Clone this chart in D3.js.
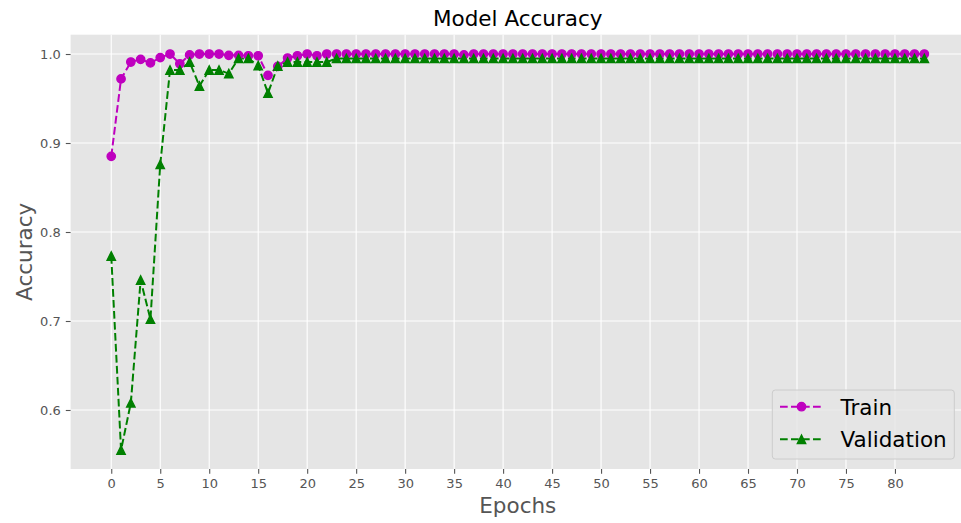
<!DOCTYPE html>
<html>
<head>
<meta charset="utf-8">
<script src="https://cdn.jsdelivr.net/npm/d3@7"></script>
<style>
  html, body { margin: 0; padding: 0; background: #fff; }
  svg { display: block; font-family: "DejaVu Sans", sans-serif; }
</style>
</head>
<body>
<svg id="chart" width="961" height="523"></svg>
<script>
// ---- data ----
const epochs = d3.range(0, 84);
const trainAcc = [
  0.885, 0.972, 0.991, 0.994, 0.990, 0.996, 1.000, 0.989, 0.999, 1.000,
  1.000, 1.000, 0.9985, 0.9985, 0.998, 0.998, 0.976, 0.986, 0.9955, 0.998,
  1.000, 0.998, 1.000, 1.000, 1.000, 1.000, 1.000, 1.000, 1.000, 1.000,
  1.000, 1.000, 1.000, 1.000, 1.000, 1.000, 0.999, 1.000, 1.000, 1.000,
  1.000, 1.000, 1.000, 1.000, 1.000, 1.000, 1.000, 1.000, 1.000, 1.000,
  1.000, 1.000, 1.000, 1.000, 1.000, 1.000, 1.000, 1.000, 1.000, 1.000,
  1.000, 1.000, 1.000, 1.000, 1.000, 1.000, 1.000, 1.000, 1.000, 1.000,
  1.000, 1.000, 1.000, 1.000, 1.000, 1.000, 1.000, 1.000, 1.000, 1.000,
  1.000, 1.000, 1.000, 1.000
];
const valAcc = [
  0.773, 0.555, 0.608, 0.746, 0.702, 0.876, 0.982, 0.982, 0.991, 0.964,
  0.982, 0.982, 0.978, 0.995, 0.995, 0.987, 0.956, 0.9865, 0.991, 0.991,
  0.991, 0.991, 0.991, 0.995, 0.995, 0.995, 0.995, 0.995, 0.995, 0.995,
  0.995, 0.995, 0.995, 0.995, 0.995, 0.995, 0.995, 0.995, 0.995, 0.995,
  0.995, 0.995, 0.995, 0.995, 0.995, 0.995, 0.995, 0.995, 0.995, 0.995,
  0.995, 0.995, 0.995, 0.995, 0.995, 0.995, 0.995, 0.995, 0.995, 0.995,
  0.995, 0.995, 0.995, 0.995, 0.995, 0.995, 0.995, 0.995, 0.995, 0.995,
  0.995, 0.995, 0.995, 0.995, 0.995, 0.995, 0.995, 0.995, 0.995, 0.995,
  0.995, 0.995, 0.995, 0.995
];
const xTicks = d3.range(0, 81, 5);
const yTicks = [0.6, 0.7, 0.8, 0.9, 1.0];
const seriesNames = ["Train", "Validation"];
const titleText = "Model Accuracy";
const xLabel = "Epochs";
const yLabel = "Accuracy";

// ---- layout ----
const pLeft = 70.6, pRight = 965, pTop = 34.7, pBottom = 469;
const svg = d3.select("#chart");

const x = d3.scaleLinear().domain([-4.15, 87.15]).range([pLeft, pRight]);
const y = d3.scaleLinear().domain([0.5337, 1.0217]).range([pBottom, pTop]);

// background
svg.append("rect").attr("x", pLeft).attr("y", pTop)
  .attr("width", pRight - pLeft).attr("height", pBottom - pTop)
  .attr("fill", "#e5e5e5");

// grid
const grid = svg.append("g");
grid.selectAll("line.gx").data(xTicks).join("line").attr("class", "gx")
  .attr("x1", d => x(d)).attr("x2", d => x(d))
  .attr("y1", pTop).attr("y2", pBottom)
  .attr("stroke", "#fff").attr("stroke-width", 1.1);
grid.selectAll("line.gy").data(yTicks).join("line").attr("class", "gy")
  .attr("y1", d => y(d)).attr("y2", d => y(d))
  .attr("x1", pLeft).attr("x2", pRight)
  .attr("stroke", "#fff").attr("stroke-width", 1.1);

// axes
const xAxis = d3.axisBottom(x).tickValues(xTicks).tickSize(4.8).tickPadding(5)
  .tickFormat(d3.format("d"));
const gx = svg.append("g").attr("transform", `translate(0,${pBottom})`).call(xAxis);
gx.select(".domain").remove();
gx.selectAll(".tick line").attr("stroke", "#555").attr("stroke-width", 1.1);
gx.selectAll(".tick text").attr("fill", "#555").attr("font-size", 13)
  .attr("font-family", "DejaVu Sans");

const yAxis = d3.axisLeft(y).tickValues(yTicks).tickSize(4.8).tickPadding(5)
  .tickFormat(d3.format(".1f"));
const gy = svg.append("g").attr("transform", `translate(${pLeft},0)`).call(yAxis);
gy.select(".domain").remove();
gy.selectAll(".tick line").attr("stroke", "#555").attr("stroke-width", 1.1);
gy.selectAll(".tick text").attr("fill", "#555").attr("font-size", 13)
  .attr("font-family", "DejaVu Sans");

// labels
svg.append("text").attr("x", (pLeft + pRight) / 2).attr("y", 26)
  .attr("text-anchor", "middle").attr("font-size", 21.5).attr("fill", "#000")
  .text(titleText);
svg.append("text").attr("x", (pLeft + pRight) / 2).attr("y", 513)
  .attr("text-anchor", "middle").attr("font-size", 21.5).attr("fill", "#555")
  .text(xLabel);
svg.append("text")
  .attr("transform", `translate(32,${(pTop + pBottom) / 2}) rotate(-90)`)
  .attr("text-anchor", "middle").attr("font-size", 21.5).attr("fill", "#555")
  .text(yLabel);

// clip
svg.append("clipPath").attr("id", "clip").append("rect")
  .attr("x", pLeft).attr("y", pTop).attr("width", pRight - pLeft).attr("height", pBottom - pTop);
const plot = svg.append("g").attr("clip-path", "url(#clip)");

const colors = ["#bf00bf", "#008000"];
const line = d3.line().x((d, i) => x(epochs[i])).y(d => y(d));
const triPath = "M0,-4.17L4.17,4.17L-4.17,4.17Z";
const dash = "7.7,3.3";

[trainAcc, valAcc].forEach((vals, s) => {
  plot.append("path").datum(vals).attr("d", line)
    .attr("fill", "none").attr("stroke", colors[s]).attr("stroke-width", 2)
    .attr("stroke-dasharray", dash);
});
// markers
plot.selectAll("circle.tr").data(trainAcc).join("circle").attr("class", "tr")
  .attr("cx", (d, i) => x(epochs[i])).attr("cy", d => y(d)).attr("r", 4.17)
  .attr("fill", colors[0]).attr("stroke", colors[0]).attr("stroke-width", 1.4);
plot.selectAll("path.va").data(valAcc).join("path").attr("class", "va")
  .attr("transform", (d, i) => `translate(${x(epochs[i])},${y(d)})`)
  .attr("d", triPath)
  .attr("fill", colors[1]).attr("stroke", colors[1]).attr("stroke-width", 1.4);

// legend
const lg = svg.append("g");
lg.append("rect").attr("x", 772.3).attr("y", 390).attr("width", 182).attr("height", 69)
  .attr("rx", 3).attr("fill", "#e5e5e5").attr("fill-opacity", 0.8)
  .attr("stroke", "#cccccc").attr("stroke-width", 1);
const rowsY = [406.7, 439.3];
seriesNames.forEach((name, s) => {
  const ry = rowsY[s];
  lg.append("line").attr("x1", 780).attr("x2", 823).attr("y1", ry).attr("y2", ry)
    .attr("stroke", colors[s]).attr("stroke-width", 2).attr("stroke-dasharray", dash);
  if (s === 0) {
    lg.append("circle").attr("cx", 801.5).attr("cy", ry).attr("r", 4.17)
      .attr("fill", colors[s]).attr("stroke", colors[s]).attr("stroke-width", 1.4);
  } else {
    lg.append("path").attr("transform", `translate(801.5,${ry})`).attr("d", triPath)
      .attr("fill", colors[s]).attr("stroke", colors[s]).attr("stroke-width", 1.4);
  }
  lg.append("text").attr("x", 840.5).attr("y", ry + 7.8).attr("font-size", 21.5)
    .attr("fill", "#000").text(name);
});
</script>
</body>
</html>
